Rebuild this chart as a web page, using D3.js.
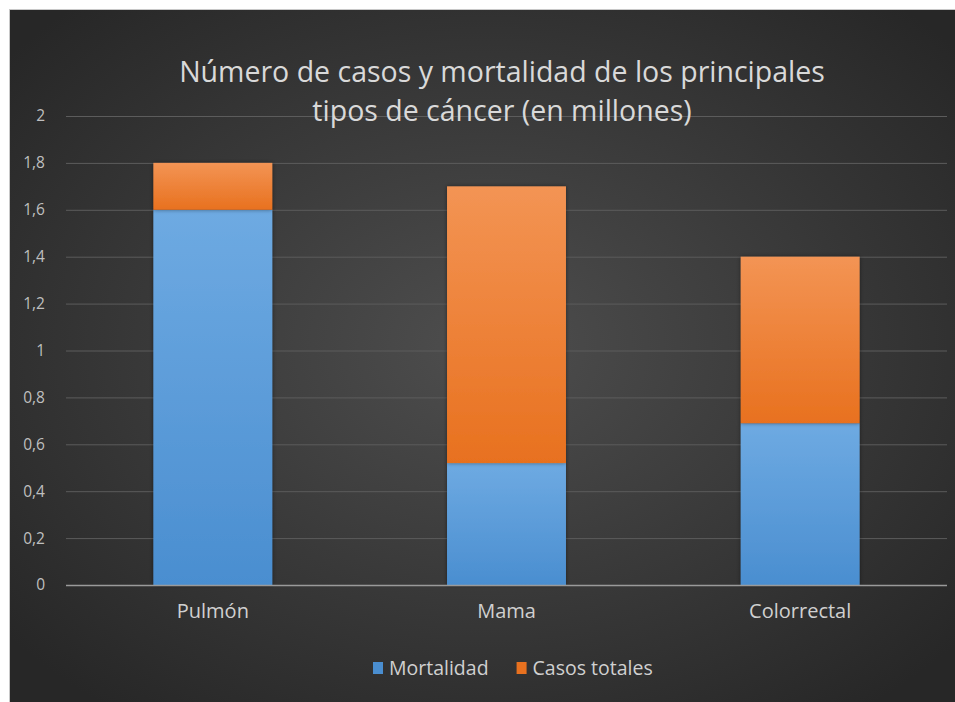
<!DOCTYPE html>
<html>
<head>
<meta charset="utf-8">
<script src="https://cdn.jsdelivr.net/npm/d3@7"></script>
<style>
  body { margin: 0; background: #fff; }
  svg { display: block; font-family: "Open Sans", sans-serif; }
</style>
</head>
<body>
<div id="chart"></div>
<script>
// data (millones)
const categories = ["Pulmón", "Mama", "Colorrectal"];
const seriesNames = ["Mortalidad", "Casos totales"];
const mortalidad = [1.6, 0.52, 0.69];
const casosTotales = [0.2, 1.18, 0.71];
const yTicks = [0, 0.2, 0.4, 0.6, 0.8, 1, 1.2, 1.4, 1.6, 1.8, 2];
const titleLines = ["Número de casos y mortalidad de los principales", "tipos de cáncer (en millones)"];

const W = 955, H = 702;
const margin = {top: 116, right: 8, bottom: 117, left: 66};
const width = W - margin.left - margin.right,
      height = H - margin.top - margin.bottom;

const svg = d3.select("#chart").append("svg")
    .attr("width", W)
    .attr("height", H);

const defs = svg.append("defs");
const bg = defs.append("radialGradient").attr("id", "bg")
    .attr("cx", "50%").attr("cy", "48%").attr("r", "65%");
bg.append("stop").attr("offset", "0%").attr("stop-color", "#4e4e4e");
bg.append("stop").attr("offset", "100%").attr("stop-color", "#272727");

const colors = {
  "Mortalidad": ["#6eaae2", "#4a8ed0"],
  "Casos totales": ["#f39454", "#e8711f"]
};
seriesNames.forEach(function(s, i) {
  const g = defs.append("linearGradient").attr("id", "grad" + i)
      .attr("x1", 0).attr("y1", 0).attr("x2", 0).attr("y2", 1);
  g.append("stop").attr("offset", "0%").attr("stop-color", colors[s][0]);
  g.append("stop").attr("offset", "100%").attr("stop-color", colors[s][1]);
});
const shadow = defs.append("filter").attr("id", "shadow")
    .attr("x", "-10%").attr("y", "-10%").attr("width", "120%").attr("height", "120%");
shadow.append("feDropShadow").attr("dx", 0).attr("dy", 0)
    .attr("stdDeviation", 2).attr("flood-color", "#000").attr("flood-opacity", 0.45);

// chart background
svg.append("rect")
    .attr("x", 9.5).attr("y", 9.5)
    .attr("width", W).attr("height", H)
    .attr("fill", "url(#bg)")
    .attr("stroke", "#c8c8c8");

const g = svg.append("g")
    .attr("transform", "translate(" + margin.left + "," + margin.top + ")");

const x = d3.scaleBand().domain(categories).range([0, width])
    .paddingInner(0.595).paddingOuter(0.2975);
const y = d3.scaleLinear().domain([0, 2]).range([height, 0]);

const locale = d3.formatLocale({decimal: ",", thousands: ".", grouping: [3], currency: ["", "€"]});
const fmt = locale.format("~g");

// gridlines
g.selectAll(".grid").data(yTicks.filter(d => d > 0)).join("line")
    .attr("x1", 0).attr("x2", width)
    .attr("y1", d => y(d) + 0.5).attr("y2", d => y(d) + 0.5)
    .attr("stroke", "#5c5c5c").attr("stroke-width", 1);

// title, one text per line
svg.selectAll(".title").data(titleLines).join("text")
    .attr("class", "title")
    .attr("text-anchor", "middle")
    .attr("fill", "#d9d9d9")
    .style("font-size", "28.5px")
    .attr("x", 502)
    .attr("y", function(d, i) { return 82 + i * 39; })
    .text(d => d);

// y axis labels
const yAxis = g.append("g")
    .attr("transform", "translate(-18,0)")
    .call(d3.axisLeft(y).tickValues(yTicks).tickFormat(fmt).tickSize(0));
yAxis.select(".domain").remove();
yAxis.selectAll("text")
    .attr("fill", "#bfbfbf")
    .style("font-size", "15.5px")
    .style("font-family", "Open Sans, sans-serif");

// stacked bars
const table = categories.map(function(c, i) {
  return {cat: c, "Mortalidad": mortalidad[i], "Casos totales": casosTotales[i]};
});
const stacked = d3.stack().keys(seriesNames)(table);

g.selectAll(".series").data(stacked).join("g")
    .attr("fill", (d, i) => "url(#grad" + i + ")")
    .attr("filter", "url(#shadow)")
  .selectAll("rect").data(d => d).join("rect")
    .attr("x", d => x(d.data.cat))
    .attr("width", x.bandwidth())
    .attr("y", d => y(d[1]))
    .attr("height", d => y(d[0]) - y(d[1]));

// zero line
g.append("line")
    .attr("x1", 0).attr("x2", width)
    .attr("y1", y(0) + 0.5).attr("y2", y(0) + 0.5)
    .attr("stroke", "#9a9a9a").attr("stroke-width", 1.5);

// x axis labels
const xAxis = g.append("g")
    .attr("transform", "translate(0," + height + ")")
    .call(d3.axisBottom(x).tickSize(0).tickPadding(19));
xAxis.select(".domain").remove();
xAxis.selectAll("text")
    .attr("fill", "#d0d0d0")
    .style("font-size", "20px")
    .style("font-family", "Open Sans, sans-serif");

// legend
const legend = svg.append("g").attr("transform", "translate(373,668)");
let lx = 0;
seriesNames.forEach(function(s, i) {
  const item = legend.append("g").attr("transform", "translate(" + lx + ",0)");
  item.append("rect")
      .attr("x", 0).attr("y", -6)
      .attr("width", 10).attr("height", 12)
      .attr("fill", colors[s][1]);
  const t = item.append("text")
      .attr("x", 16).attr("y", 7)
      .attr("fill", "#d0d0d0")
      .style("font-size", "19.5px")
      .text(s);
  lx += 16 + t.node().getComputedTextLength() + 28;
});
</script>
</body>
</html>
